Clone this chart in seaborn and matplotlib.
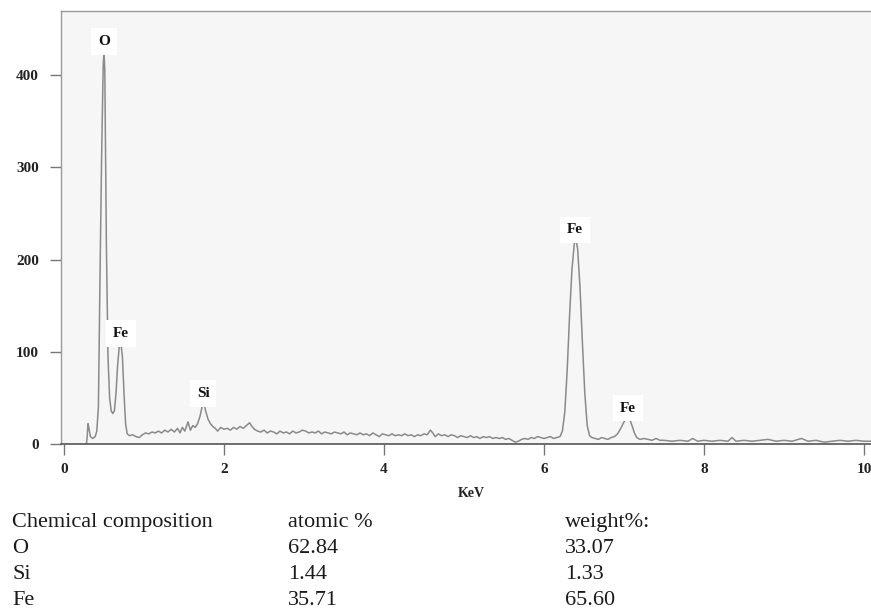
import matplotlib
matplotlib.use("Agg")
import matplotlib.pyplot as plt
import seaborn as sns
import pandas as pd

# EDS spectrum (energy in keV, counts)
kev = [0.28, 0.29, 0.30, 0.31, 0.33, 0.36, 0.39, 0.41, 0.43, 0.45,
       0.47, 0.49, 0.50, 0.51, 0.53, 0.55, 0.57, 0.59, 0.61, 0.63,
       0.65, 0.67, 0.69, 0.71, 0.73, 0.75, 0.77, 0.79, 0.82, 0.86,
       0.90, 0.94, 0.98, 1.02, 1.06, 1.10, 1.14, 1.18, 1.22, 1.26,
       1.30, 1.34, 1.38, 1.42, 1.45, 1.48, 1.51, 1.55, 1.58, 1.61,
       1.64, 1.67, 1.70, 1.73, 1.75, 1.77, 1.80, 1.83, 1.86, 1.89,
       1.92, 1.96, 2.00, 2.04, 2.08, 2.12, 2.16, 2.20, 2.24, 2.28,
       2.32, 2.35, 2.38, 2.42, 2.46, 2.50, 2.54, 2.58, 2.62, 2.66,
       2.70, 2.74, 2.78, 2.82, 2.86, 2.90, 2.94, 2.98, 3.02, 3.06,
       3.10, 3.14, 3.18, 3.22, 3.26, 3.30, 3.34, 3.38, 3.42, 3.46,
       3.50, 3.54, 3.58, 3.62, 3.66, 3.70, 3.74, 3.78, 3.82, 3.86,
       3.90, 3.94, 3.98, 4.02, 4.06, 4.10, 4.14, 4.18, 4.22, 4.26,
       4.30, 4.34, 4.38, 4.42, 4.46, 4.50, 4.54, 4.58, 4.61, 4.64,
       4.68, 4.72, 4.76, 4.80, 4.84, 4.88, 4.92, 4.96, 5.00, 5.04,
       5.08, 5.12, 5.16, 5.20, 5.24, 5.28, 5.32, 5.36, 5.40, 5.44,
       5.48, 5.52, 5.56, 5.60, 5.64, 5.68, 5.72, 5.76, 5.80, 5.84,
       5.88, 5.92, 5.96, 6.00, 6.04, 6.08, 6.12, 6.16, 6.20, 6.23,
       6.26, 6.29, 6.32, 6.35, 6.38, 6.40, 6.42, 6.45, 6.48, 6.51,
       6.54, 6.57, 6.60, 6.64, 6.68, 6.72, 6.76, 6.80, 6.84, 6.88,
       6.92, 6.96, 7.00, 7.04, 7.07, 7.10, 7.13, 7.16, 7.20, 7.25,
       7.30, 7.35, 7.40, 7.45, 7.50, 7.60, 7.70, 7.80, 7.86, 7.92,
       8.00, 8.10, 8.20, 8.30, 8.35, 8.40, 8.50, 8.60, 8.70, 8.80,
       8.90, 9.00, 9.10, 9.22, 9.30, 9.40, 9.50, 9.60, 9.70, 9.80,
       9.90, 10.00, 10.09]
counts = [0, 8, 22, 18, 8, 6, 8, 14, 40, 180,
          310, 410, 425, 405, 215, 95, 50, 36, 33, 36,
          55, 85, 105, 110, 95, 55, 22, 11, 9, 10,
          8, 7, 10, 12, 11, 13, 12, 14, 12, 15,
          13, 16, 13, 17, 12, 18, 14, 24, 15, 20,
          18, 22, 30, 42, 44, 36, 27, 22, 19, 17,
          14, 18, 16, 17, 15, 18, 16, 19, 17, 20,
          23, 19, 16, 14, 13, 15, 12, 14, 13, 11,
          14, 12, 13, 11, 14, 12, 13, 15, 14, 12,
          13, 12, 14, 11, 13, 12, 11, 13, 12, 11,
          13, 10, 12, 11, 10, 12, 10, 11, 9, 12,
          10, 8, 11, 10, 9, 11, 9, 10, 9, 11,
          9, 10, 8, 10, 9, 11, 10, 15, 12, 8,
          11, 9, 10, 8, 10, 9, 7, 9, 8, 7,
          9, 7, 8, 6, 8, 7, 8, 6, 7, 6,
          7, 5, 6, 4, 2, 3, 5, 6, 5, 7,
          6, 8, 7, 6, 7, 8, 6, 7, 8, 14,
          35, 80, 140, 190, 218, 221, 212, 170, 110, 55,
          20, 9, 7, 6, 5, 7, 6, 5, 7, 8,
          11, 17, 24, 28, 27, 20, 12, 7, 5, 6,
          5, 4, 6, 4, 4, 3, 4, 3, 6, 3,
          4, 3, 4, 3, 7, 3, 4, 3, 4, 5,
          3, 4, 3, 6, 3, 4, 2, 3, 4, 3,
          4, 3, 3]

# peak labels
peak_names = ["O", "Fe", "Si", "Fe", "Fe"]
peak_x = [0.50, 0.71, 1.74, 6.39, 7.05]
peak_y = [436, 120, 55, 232, 39]

# composition table
elements = ["O", "Si", "Fe"]
atomic_pct = ["62.84", "1.44", "35.71"]
weight_pct = ["33.07", "1.33", "65.60"]

sns.set_style("white")
plt.rcParams['font.family'] = ['Liberation Serif', 'DejaVu Serif']

df = pd.DataFrame({'KeV': kev, 'counts': counts})

fig = plt.figure(figsize=(8.71, 6.11), dpi=100)
ax = fig.add_axes([61 / 871, 1 - 444 / 611, 810 / 871, 433 / 611])
ax.set_facecolor('#f6f6f6')

sns.lineplot(data=df, x='KeV', y='counts', ax=ax, sort=False, estimator=None,
             color='#8a8a8a', linewidth=1.1)

ax.set_xlim(-0.0375, 10.0875)
ax.set_ylim(0, 469.4)
ax.set_xticks([0, 2, 4, 6, 8, 10])
ax.set_yticks([0, 100, 200, 300, 400])

for side in ['top', 'left']:
    ax.spines[side].set_color('#9a9a9a')
    ax.spines[side].set_linewidth(1.0)
ax.spines['right'].set_visible(False)
ax.spines['bottom'].set_color('#555555')
ax.spines['bottom'].set_linewidth(1.2)

ax.tick_params(axis='x', direction='out', length=8, width=1, color='#777777',
               pad=6, labelsize=11)
ax.tick_params(axis='y', direction='out', length=8, width=1, color='#777777',
               pad=8, labelsize=11)
ax.tick_params(left=True, bottom=True)
for lab in ax.get_xticklabels() + ax.get_yticklabels():
    lab.set_fontweight('bold')
    lab.set_color('#222222')

ax.set_ylabel('')
ax.set_xlabel('KeV', fontsize=10, fontweight='bold', color='#222222')
ax.xaxis.set_label_coords(0.507, -0.100)

for name, x, y in zip(peak_names, peak_x, peak_y):
    ax.text(x, y, name, ha='center', va='center', fontsize=11,
            fontweight='bold', color='#111111',
            bbox=dict(boxstyle='square,pad=0.45', fc='white', ec='none'))

# table under the chart
col_x = [12 / 871, 288 / 871, 565 / 871]
headers = ["Chemical composition", "atomic %", "weight%:"]
row_y = [1 - 527 / 611, 1 - 553 / 611, 1 - 579 / 611, 1 - 605 / 611]
for cx, h in zip(col_x, headers):
    fig.text(cx, row_y[0], h, fontsize=16, va='baseline', ha='left', color='#1a1a1a')
for i, el in enumerate(elements):
    fig.text(col_x[0], row_y[i + 1], el, fontsize=16, va='baseline', color='#1a1a1a')
    fig.text(col_x[1], row_y[i + 1], atomic_pct[i], fontsize=16, va='baseline', color='#1a1a1a')
    fig.text(col_x[2], row_y[i + 1], weight_pct[i], fontsize=16, va='baseline', color='#1a1a1a')

fig.savefig('out.png', dpi=100)
